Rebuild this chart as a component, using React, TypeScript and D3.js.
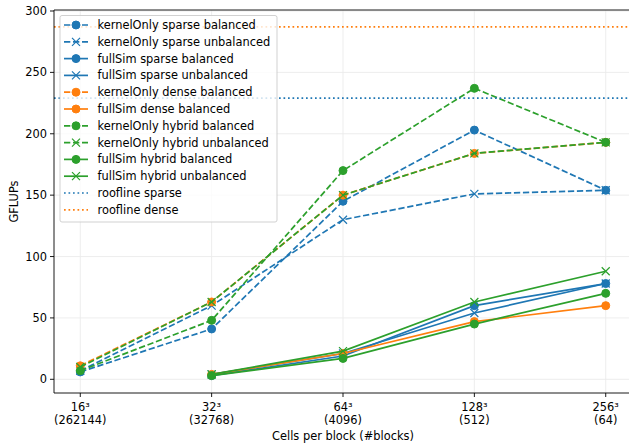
import React from "react";
import * as d3 from "d3";

const categories = ["16³", "32³", "64³", "128³", "256³"];
const blockCounts = ["(262144)", "(32768)", "(4096)", "(512)", "(64)"];
const yTicks = [0, 50, 100, 150, 200, 250, 300];

const seriesNames = [
  "kernelOnly sparse balanced",
  "kernelOnly sparse unbalanced",
  "fullSim sparse balanced",
  "fullSim sparse unbalanced",
  "kernelOnly dense balanced",
  "fullSim dense balanced",
  "kernelOnly hybrid balanced",
  "kernelOnly hybrid unbalanced",
  "fullSim hybrid balanced",
  "fullSim hybrid unbalanced",
];
const kernelOnlySparseBalanced = [6, 41, 145, 203, 154];
const kernelOnlySparseUnbalanced = [7, 60, 130, 151, 154];
const fullSimSparseBalanced = [null, 3, 19, 60, 78];
const fullSimSparseUnbalanced = [null, 4, 21, 54, 78];
const kernelOnlyDenseBalanced = [11, 63, 150, 184, 193];
const fullSimDenseBalanced = [null, 4, 21, 47, 60];
const kernelOnlyHybridBalanced = [7, 48, 170, 237, 193];
const kernelOnlyHybridUnbalanced = [10, 63, 150, 184, 193];
const fullSimHybridBalanced = [null, 3, 17, 45, 70];
const fullSimHybridUnbalanced = [null, 4, 23, 63, 88];

const seriesValues = [
  kernelOnlySparseBalanced,
  kernelOnlySparseUnbalanced,
  fullSimSparseBalanced,
  fullSimSparseUnbalanced,
  kernelOnlyDenseBalanced,
  fullSimDenseBalanced,
  kernelOnlyHybridBalanced,
  kernelOnlyHybridUnbalanced,
  fullSimHybridBalanced,
  fullSimHybridUnbalanced,
];
const seriesColor = ["blue", "blue", "blue", "blue", "orange", "orange", "green", "green", "green", "green"];
const seriesDashed = [true, true, false, false, true, false, true, true, false, false];
const seriesMarker = ["o", "x", "o", "x", "o", "o", "o", "x", "o", "x"];

const rooflineNames = ["roofline sparse", "roofline dense"];
const rooflineValues = [229, 287];
const rooflineColor = ["blue", "orange"];

const palette: Record<string, string> = { blue: "#1f77b4", orange: "#ff7f0e", green: "#2ca02c" };

const W = 629;
const H = 446;
const FONT = "DejaVu Sans, sans-serif";
const FS = 11.4;

export default function App() {
  const x = d3.scaleLinear().domain([-0.2, 4.2]).range([54, 632]);
  const y = d3.scaleLinear().domain([0, 300]).range([379.3, 11]);
  const plotTop = 10;
  const plotBottom = 393;
  const plotLeft = 54;
  const plotRight = 632;

  const line = d3
    .line<[number, number | null]>()
    .defined((d) => d[1] != null)
    .x((d) => x(d[0]))
    .y((d) => y(d[1] as number));

  const lw = 1.7;
  const dash = "6.3,2.7";
  const dot = "1.7,2.8";

  const marker = (type: string, cx: number, cy: number, color: string, key: string) =>
    type === "o" ? (
      <circle key={key} cx={cx} cy={cy} r={4} fill={color} stroke={color} strokeWidth={1} />
    ) : (
      <path
        key={key}
        d={`M${cx - 4},${cy - 4}L${cx + 4},${cy + 4}M${cx - 4},${cy + 4}L${cx + 4},${cy - 4}`}
        stroke={color}
        strokeWidth={1.2}
        fill="none"
      />
    );

  const legendX = 60;
  const legendY = 15.5;
  const rowH = 16.8;
  const legendItems = [
    ...seriesNames.map((n, i) => ({ name: n, color: palette[seriesColor[i]], dash: seriesDashed[i] ? dash : undefined, marker: seriesMarker[i] })),
    ...rooflineNames.map((n, i) => ({ name: n, color: palette[rooflineColor[i]], dash: dot, marker: "" })),
  ];

  return (
    <svg
      width={W}
      height={H}
      style={{ position: "fixed", left: 0, top: 0, background: "#fff" }}
      fontFamily={FONT}
    >
      <rect x={0} y={0} width={W} height={H} fill="#fff" />
      <defs>
        <clipPath id="plot">
          <rect x={plotLeft} y={plotTop} width={plotRight - plotLeft} height={plotBottom - plotTop} />
        </clipPath>
      </defs>
      {/* grid */}
      <g stroke="#ebebeb" strokeWidth={0.9}>
        {categories.map((_, i) => (
          <line key={"gx" + i} x1={x(i)} x2={x(i)} y1={plotTop} y2={plotBottom} />
        ))}
        {yTicks.map((t) => (
          <line key={"gy" + t} x1={plotLeft} x2={plotRight} y1={y(t)} y2={y(t)} />
        ))}
      </g>
      {/* series */}
      <g clipPath="url(#plot)">
        {seriesValues.map((vals, si) => {
          const color = palette[seriesColor[si]];
          const pts: [number, number | null][] = vals.map((v, i) => [i, v]);
          return (
            <g key={"s" + si}>
              <path
                d={line(pts) || ""}
                fill="none"
                stroke={color}
                strokeWidth={lw}
                strokeDasharray={seriesDashed[si] ? dash : undefined}
              />
              {pts
                .filter((p) => p[1] != null)
                .map((p, j) => marker(seriesMarker[si], x(p[0]), y(p[1] as number), color, "m" + si + "-" + j))}
            </g>
          );
        })}
        {rooflineValues.map((v, i) => (
          <line
            key={"r" + i}
            x1={plotLeft}
            x2={plotRight}
            y1={y(v)}
            y2={y(v)}
            stroke={palette[rooflineColor[i]]}
            strokeWidth={lw}
            strokeDasharray={dot}
          />
        ))}
      </g>
      {/* spines */}
      <g stroke="#000" strokeWidth={0.9} fill="none">
        <line x1={plotLeft} x2={plotLeft} y1={plotTop} y2={plotBottom} />
        <line x1={plotLeft} x2={plotRight} y1={plotBottom} y2={plotBottom} />
        <line x1={plotLeft} x2={plotRight} y1={plotTop} y2={plotTop} />
      </g>
      {/* y ticks */}
      <g fontSize={FS} fill="#000">
        {yTicks.map((t) => (
          <g key={"yt" + t}>
            <line x1={plotLeft - 4} x2={plotLeft} y1={y(t)} y2={y(t)} stroke="#000" strokeWidth={0.9} />
            <text x={plotLeft - 7} y={y(t)} textAnchor="end" dominantBaseline="central">
              {t}
            </text>
          </g>
        ))}
      </g>
      {/* x ticks */}
      <g fontSize={FS} fill="#000">
        {categories.map((c, i) => (
          <g key={"xt" + i}>
            <line x1={x(i)} x2={x(i)} y1={plotBottom} y2={plotBottom + 4} stroke="#000" strokeWidth={0.9} />
            <text x={x(i)} y={411} textAnchor="middle">
              {c}
            </text>
            <text x={x(i)} y={424} textAnchor="middle">
              {blockCounts[i]}
            </text>
          </g>
        ))}
      </g>
      <text x={343} y={440} textAnchor="middle" fontSize={FS}>
        Cells per block (#blocks)
      </text>
      <text transform={`translate(18,${(plotTop + plotBottom) / 2}) rotate(-90)`} textAnchor="middle" fontSize={FS}>
        GFLUPs
      </text>
      {/* legend */}
      <g>
        <rect
          x={legendX}
          y={legendY}
          width={217}
          height={206.5}
          rx={2}
          fill="#fff"
          fillOpacity={0.8}
          stroke="#cccccc"
          strokeWidth={0.9}
        />
        {legendItems.map((it, i) => {
          const cy = legendY + 9.5 + i * rowH;
          return (
            <g key={"l" + i}>
              <line x1={64} x2={88} y1={cy} y2={cy} stroke={it.color} strokeWidth={lw} strokeDasharray={it.dash} />
              {it.marker ? marker(it.marker, 76, cy, it.color, "lm" + i) : null}
              <text x={97.5} y={cy} dominantBaseline="central" fontSize={FS} fill="#000">
                {it.name}
              </text>
            </g>
          );
        })}
      </g>
    </svg>
  );
}
